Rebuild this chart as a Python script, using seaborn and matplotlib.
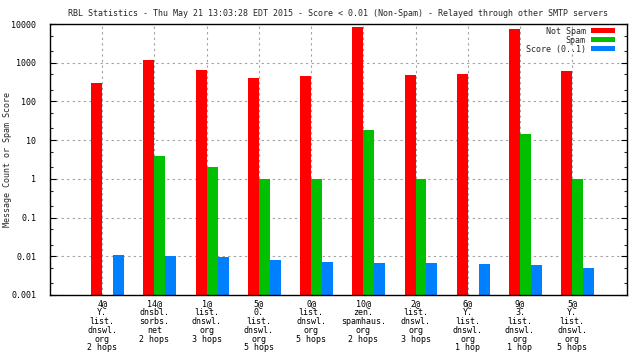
import pandas as pd
import seaborn as sns
import matplotlib.pyplot as plt
from matplotlib.ticker import FixedLocator, LogLocator, NullFormatter

# --- data ---
servers = [
    "4@\nY.\nlist.\ndnswl.\norg\n2 hops",
    "14@\ndnsbl.\nsorbs.\nnet\n2 hops",
    "1@\nlist.\ndnswl.\norg\n3 hops",
    "5@\n0.\nlist.\ndnswl.\norg\n5 hops",
    "0@\nlist.\ndnswl.\norg\n5 hops",
    "10@\nzen.\nspamhaus.\norg\n2 hops",
    "2@\nlist.\ndnswl.\norg\n3 hops",
    "6@\nY.\nlist.\ndnswl.\norg\n1 hop",
    "9@\n3.\nlist.\ndnswl.\norg\n1 hop",
    "5@\nY.\nlist.\ndnswl.\norg\n5 hops",
]
not_spam = [302, 1183, 654, 407, 458, 8370, 486, 516, 7430, 616]
spam = [None, 4, 2, 1, 1, 18.6, 1, None, 14.7, 1]
score = [0.0106, 0.0100, 0.0094, 0.0079, 0.0070, 0.0066, 0.0066, 0.0062, 0.0059, 0.0049]

series_names = ["Not Spam", "Spam", "Score (0..1)"]
series_colors = {"Not Spam": "#ff0000", "Spam": "#00c000", "Score (0..1)": "#0080ff"}

y_ticks = [0.001, 0.01, 0.1, 1, 10, 100, 1000, 10000]
y_tick_labels = ["0.001", "0.01", "0.1", "1", "10", "100", "1000", "10000"]

title = ("RBL Statistics - Thu May 21 13:03:28 EDT 2015 - Score < 0.01 (Non-Spam)"
         " - Relayed through other SMTP servers")

# long table for seaborn
rows = []
for i in range(len(servers)):
    for name, vals in zip(series_names, [not_spam, spam, score]):
        if vals[i] is not None:
            rows.append({"idx": i, "series": name, "value": vals[i]})
df = pd.DataFrame(rows)

sns.set_theme(style="white")
plt.rcParams["font.family"] = ["DejaVu Sans Mono", "DejaVu Sans"]
plt.rcParams["font.size"] = 6

fig = plt.figure(figsize=(6.4, 3.6), dpi=100)
ax = fig.add_axes([50 / 640, 1 - 295 / 360, 577 / 640, 271 / 360])

sns.barplot(data=df, x="idx", y="value", hue="series", hue_order=series_names,
            order=list(range(len(servers))), palette=series_colors, saturation=1,
            width=0.63, errorbar=None, linewidth=0, ax=ax, zorder=3)

ax.set_yscale("log")
ax.set_ylim(0.001, 10000)
ax.yaxis.set_major_locator(FixedLocator(y_ticks))
ax.set_yticklabels(y_tick_labels)
ax.yaxis.set_minor_locator(LogLocator(base=10, subs=[2, 5]))
ax.yaxis.set_minor_formatter(NullFormatter())

# gnuplot style: tic sits on the left edge of the green bar
shift = 0.105
ax.set_xticks([i - shift for i in range(len(servers))])
ax.set_xticklabels(servers, ha="center", multialignment="center", linespacing=0.98)
ax.set_xlim(-1 - shift, 10.05 - shift)

ax.tick_params(axis="x", length=0, pad=3, labelsize=6, colors="black")
ax.tick_params(axis="y", which="major", direction="in", length=4, width=0.8,
               right=True, left=True, pad=10, labelsize=6, colors="black")
ax.tick_params(axis="y", which="minor", direction="in", length=2, width=0.8,
               right=True, left=True)

ax.set_axisbelow(True)
ax.grid(True, which="major", axis="both", color="#a0a0a0",
        linestyle=(0, (2, 3)), linewidth=0.8)
for s in ax.spines.values():
    s.set_color("black")
    s.set_linewidth(1)
    s.set_zorder(5)

ax.set_xlabel("")
ax.set_ylabel("Message Count or Spam Score", fontsize=6)
ax.yaxis.set_label_coords(-0.066, 0.5)
ax.set_title(title, fontsize=6, pad=6)

handles, labels = ax.get_legend_handles_labels()
ax.legend(handles, labels, loc="upper right", bbox_to_anchor=(0.979, 0.99),
          markerfirst=False, frameon=False, fontsize=6, borderpad=0,
          borderaxespad=0, handlelength=2.9, handleheight=0.6,
          handletextpad=0.6, labelspacing=0.0)

fig.savefig("out.png", dpi=100)
